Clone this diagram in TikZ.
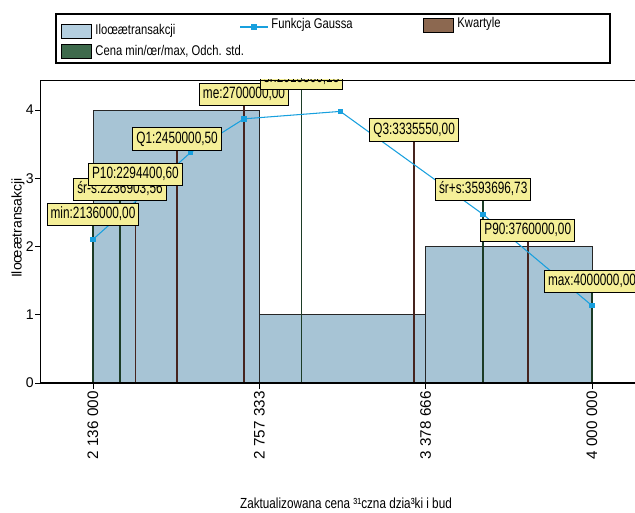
\documentclass[tikz,border=0pt]{standalone}
\usepackage{fontspec}
\setmainfont{Liberation Sans}
\newfontfamily\condfont[FakeStretch=0.8]{Liberation Sans}
\newfontfamily\tagfont[FakeStretch=0.72]{Liberation Sans}
\definecolor{barblue}{RGB}{167,196,213}
\definecolor{legblue}{RGB}{180,207,224}
\definecolor{statgreen}{RGB}{28,60,38}
\definecolor{quartbrown}{RGB}{70,36,30}
\definecolor{swgreen}{RGB}{62,106,76}
\definecolor{swbrown}{RGB}{140,104,80}
\definecolor{gaussblue}{RGB}{24,160,222}
\definecolor{tagyellow}{RGB}{245,239,152}

\begin{document}
\begin{tikzpicture}[x=0.03cm, y=-0.03cm,
    tag/.style={draw=black, fill=tagyellow, line width=0.7pt, inner xsep=3pt,
      minimum height=0.66cm, font=\tagfont\fontsize{14}{16}\selectfont},
    legtext/.style={anchor=west, inner sep=1pt, font=\condfont\fontsize{12}{14}\selectfont},
    ticktext/.style={inner sep=1pt, font=\fontsize{12}{14}\selectfont},
    bar/.style={draw=black!85, fill=barblue, line width=0.8pt},
    statline/.style={line width=1.3pt},
    gauss/.style={draw=gaussblue, line width=0.9pt},
    gmark/.style={fill=gaussblue, minimum size=0.17cm, inner sep=0pt}]
  \useasboundingbox (0,0) rectangle (635,513);
  \clip (0,0) rectangle (635,513);

  % legend
  \draw[line width=1pt] (56,14) rectangle (610,63);
  \draw[fill=legblue, line width=0.8pt] (61,24) rectangle (91,38);
  \node[legtext] (legcount) at (94,31) {Iloœætransakcji};
  \draw[fill=swgreen, line width=0.8pt] (61,44) rectangle (91,58);
  \node[legtext] (legstat) at (94,51) {Cena min/œr/max, Odch. std.};
  \coordinate (lga) at (240,27);
  \coordinate (lgb) at (268,27);
  \draw[gauss] (lga) -- (lgb);
  \node[gmark] (lgm) at (254,27) {};
  \node[legtext] (leggauss) at (270,25) {Funkcja Gaussa};
  \draw[fill=swbrown, line width=0.8pt] (423,18) rectangle (453,32);
  \node[legtext] (legquart) at (456,24) {Kwartyle};

  % histogram
  \foreach \i/\h in {0/4, 1/1, 2/2}
    \draw[bar] ({93+166.333*\i},383) rectangle ({93+166.333*(\i+1)},{383-68.25*\h});

  % statistics
  \foreach \n/\v/\ty/\c in {min/2.136/214/statgreen, sms/2.236904/189/statgreen,
      ptn/2.294401/174/quartbrown, qa/2.4500005/139/quartbrown, me/2.7/94/quartbrown,
      sr/2.915300/78/statgreen, qc/3.33555/130/quartbrown, sps/3.593697/189/statgreen,
      pnt/3.76/230/quartbrown, max/4.0/281/statgreen} {
    \coordinate (top\n) at ({93+(\v-2.136)*267.7},\ty);
    \coordinate (foot\n) at ({93+(\v-2.136)*267.7},383);
    \draw[statline, \c] (top\n) -- (foot\n);
  }

  % Gaussian curve
  \foreach \v [count=\i] in {2.136, 2.5, 2.7, 3.06, 3.593697, 4.0} {
    \pgfmathsetmacro{\z}{(\v-2.9153)/0.6784}
    \pgfmathsetmacro{\gy}{383-68.25*4.07*exp(-\z*\z/2)}
    \coordinate (g\i) at ({93+(\v-2.136)*267.7},\gy);
  }
  \draw[gauss] (g1) \foreach \i in {2,...,6} { -- (g\i) };
  \foreach \i in {1,...,6}
    \node[gmark] (m\i) at (g\i) {};

  % value tags
  \foreach \n/\t in {min/{min:2136000,00}, sms/{śr-s:2236903,56}, ptn/{P10:2294400,60},
      qa/{Q1:2450000,50}, me/{me:2700000,00}, qc/{Q3:3335550,00},
      sps/{śr+s:3593696,73}, pnt/{P90:3760000,00}, max/{max:4000000,00}}
    \node[tag] (t\n) at (top\n) {\t};
  \begin{scope}
    \clip (40,80) rectangle (635,383);
    \node[tag] (tsr) at (topsr) {śr:2915300,15};
  \end{scope}

  % axes
  \draw[line width=0.8pt] (635,80) -- (40,80) -- (40,383);
  \draw[line width=1.6pt] (40,383) -- (635,383);
  \foreach \c in {0,...,4} {
    \draw[line width=0.6pt] (35,{383-68.25*\c}) -- (40,{383-68.25*\c});
    \node[ticktext, anchor=east] (yt\c) at (35,{383-68.25*\c}) {\c};
  }
  \foreach \i/\t in {0/2 136 000, 1/2 757 333, 2/3 378 666, 3/4 000 000} {
    \draw[line width=0.6pt] ({93+166.333*\i},383) -- ({93+166.333*\i},389);
    \node[ticktext, rotate=90, anchor=east, font=\fontsize{13}{15}\selectfont] (xt\i) at ({93+166.333*\i},390) {\t};
  }
  \node[ticktext, rotate=90] (ytitle) at (18,228) {Iloœætransakcji};
  \node[legtext, anchor=center, font=\condfont\fontsize{12.5}{15}\selectfont] (xtitle) at (346,503) {Zaktualizowana cena ³¹czna dzia³ki i bud};
\end{tikzpicture}
\end{document}
